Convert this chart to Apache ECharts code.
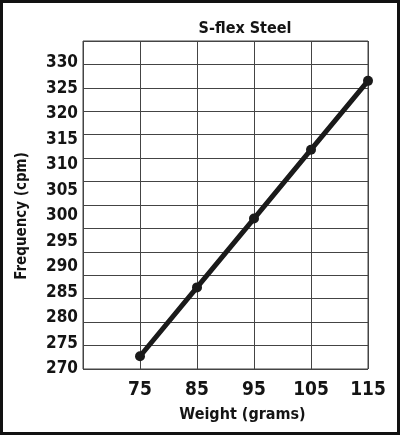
<!DOCTYPE html>
<html>
<head>
<meta charset="utf-8">
<script src="https://cdn.jsdelivr.net/npm/echarts@6/dist/echarts.min.js"></script>
<style>
  html, body { margin: 0; padding: 0; background: #fff; }
  #chart { width: 400px; height: 435px; }
</style>
</head>
<body>
<div id="chart"></div>
<script>
// chart data
var weights = [75, 85, 95, 105, 115];
var frequency = [272.5, 286, 299.5, 313, 326.5];
var freqTicks = { min: 270, max: 330, step: 5 };
var weightTicks = { min: 65, max: 115, step: 10 };

var FONT = '"DejaVu Sans Condensed", "Liberation Sans Narrow", sans-serif';
var INK = '#141414';

var chart = echarts.init(document.getElementById('chart'));

var points = weights.map(function (w, i) { return [w, frequency[i]]; });

chart.setOption({
    animation: false,
    backgroundColor: '#fff',
    title: {
        text: 'S-flex Steel',
        left: 240,
        top: 16,
        textAlign: 'center',
        textStyle: { fontFamily: FONT, fontWeight: 'bold', fontSize: 16, color: INK }
    },
    graphic: [{
        type: 'rect',
        shape: { x: 1.5, y: 1.5, width: 397, height: 432 },
        style: { fill: 'none', stroke: '#111', lineWidth: 3 },
        silent: true
    }],
    grid: [
        // the ruled box: its lines do not follow the tick labels
        { left: 83, right: 32, top: 41, bottom: 66, show: true, borderColor: '#444', borderWidth: 1 },
        // the scale used by labels and the line
        { left: 83, right: 32, top: 63, bottom: 66 }
    ],
    xAxis: [
        {
            gridIndex: 0, type: 'value', min: 0, max: 5, interval: 1,
            axisLine: { show: false }, axisTick: { show: false }, axisLabel: { show: false },
            splitLine: { show: true, lineStyle: { color: '#444', width: 1 } }
        },
        {
            gridIndex: 1, type: 'value', min: weightTicks.min, max: weightTicks.max, interval: weightTicks.step,
            axisLine: { show: false }, axisTick: { show: false }, splitLine: { show: false },
            axisLabel: {
                margin: 12, fontFamily: FONT, fontWeight: 'bold', fontSize: 19, color: INK,
                formatter: function (v) { return v === weightTicks.min ? '' : String(v); }
            },
            name: 'Weight (grams)', nameLocation: 'middle', nameGap: 38,
            nameTextStyle: { fontFamily: FONT, fontWeight: 'bold', fontSize: 16, color: INK, padding: [0, 0, 0, 34] }
        }
    ],
    yAxis: [
        {
            gridIndex: 0, type: 'value', min: 0, max: 14, interval: 1,
            axisLine: { show: false }, axisTick: { show: false }, axisLabel: { show: false },
            splitLine: { show: true, lineStyle: { color: '#444', width: 1 } }
        },
        {
            gridIndex: 1, type: 'value', min: freqTicks.min, max: freqTicks.max, interval: freqTicks.step,
            axisLine: { show: false }, axisTick: { show: false }, splitLine: { show: false },
            axisLabel: { margin: 5, fontFamily: FONT, fontWeight: 'bold', fontSize: 17, color: INK },
            name: 'Frequency (cpm)', nameLocation: 'middle', nameRotate: 90, nameGap: 53,
            nameTextStyle: { fontFamily: FONT, fontWeight: 'bold', fontSize: 15, color: INK }
        }
    ],
    series: [{
        type: 'line',
        xAxisIndex: 1,
        yAxisIndex: 1,
        data: points,
        symbol: 'circle',
        symbolSize: 10,
        lineStyle: { color: '#1a1a1a', width: 5 },
        itemStyle: { color: '#1a1a1a' }
    }]
});
</script>
</body>
</html>
